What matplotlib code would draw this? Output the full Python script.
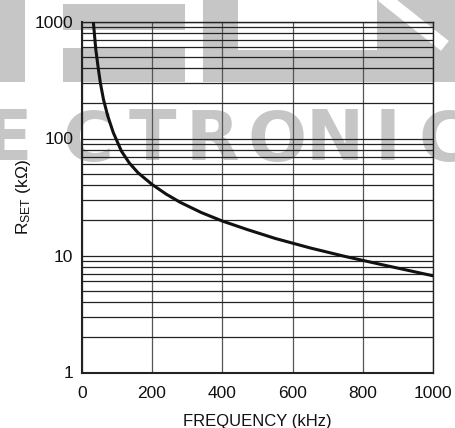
import matplotlib
matplotlib.use("Agg")
import matplotlib.pyplot as plt
from matplotlib.patches import Rectangle
from matplotlib.lines import Line2D
from matplotlib.ticker import FixedLocator, NullFormatter, NullLocator

# ---- data ----
freq_khz = [33, 40, 47, 53, 62, 74, 90, 113, 135, 160, 200, 240, 280, 340, 400,
            470, 550, 650, 750, 850, 1000]
rset_kohm = [1000, 580, 400, 300, 215, 156, 112, 78, 62, 51, 40.5, 33.5, 28.5, 23.3, 19.7,
             16.7, 14.0, 11.6, 9.8, 8.4, 6.7]
x_ticks = [0, 200, 400, 600, 800, 1000]
x_tick_labels = ["0", "200", "400", "600", "800", "1000"]
y_ticks = [1, 10, 100, 1000]
y_tick_labels = ["1", "10", "100", "1000"]
watermark_letters = ["E", "C", "T", "R", "O", "N", "I", "C"]

FONT = ["Liberation Sans", "DejaVu Sans"]
plt.rcParams["font.family"] = FONT
plt.rcParams["mathtext.fontset"] = "custom"
plt.rcParams["mathtext.rm"] = "Liberation Sans"
plt.rcParams["mathtext.it"] = "Liberation Sans"

W, H = 455, 428
fig = plt.figure(figsize=(W / 100, H / 100), dpi=100)
fig.patch.set_facecolor("white")

WM = "#c6c6c6"

def px_rect(x0, y0, x1, y1):
    # pixel coords (y from top) -> figure fraction rectangle
    return Rectangle((x0 / W, 1 - y1 / H), (x1 - x0) / W, (y1 - y0) / H,
                     transform=fig.transFigure, facecolor=WM, edgecolor="none", zorder=0)

# watermark blocks (top row)
for r in [(0, 0, 25, 82), (63, 4, 185, 30), (63, 48, 185, 82),
          (203, 0, 238, 82), (238, 50, 377, 82), (377, 0, 455, 82)]:
    fig.patches.append(px_rect(*r))
fig.lines.append(Line2D([387 / W, 440 / W], [1, 1 - 42 / H], transform=fig.transFigure,
                        color="white", lw=9, zorder=0.5))

# watermark letters
letter_x = [8, 88, 152, 212, 277, 335, 388, 444]
for ch, lx in zip(watermark_letters, letter_x):
    fig.text(lx / W, 1 - 141 / H, ch, color=WM, fontsize=50, fontweight="bold",
             family=["DejaVu Sans"], ha="center", va="center", zorder=0)

ax = fig.add_axes([81.7 / W, 55.5 / H, (433.3 - 81.7) / W, (372.5 - 21.5) / H])
ax.patch.set_alpha(0)
ax.set_zorder(2)

ax.plot(freq_khz, rset_kohm, color="#111111", lw=2.2, solid_capstyle="butt",
        solid_joinstyle="round", zorder=5)

ax.set_yscale("log")
ax.set_xlim(0, 1000)
ax.set_ylim(1, 1000)

ax.xaxis.set_major_locator(FixedLocator(x_ticks))
ax.set_xticklabels(x_tick_labels)
ax.yaxis.set_major_locator(FixedLocator(y_ticks))
ax.set_yticklabels(y_tick_labels)
minor = [m * 10 ** d for d in range(0, 3) for m in range(2, 10)]
ax.yaxis.set_minor_locator(FixedLocator(minor))
ax.yaxis.set_minor_formatter(NullFormatter())
ax.xaxis.set_minor_locator(NullLocator())

ax.grid(True, which="major", axis="x", color="#555555", lw=0.9)
ax.grid(True, which="both", axis="y", color="#222222", lw=0.9)

ax.tick_params(axis="both", which="both", length=0, labelsize=12.5, colors="#111111")
ax.tick_params(axis="x", pad=10)
ax.tick_params(axis="y", pad=6)

for s in ax.spines.values():
    s.set_color("#222222")
    s.set_linewidth(1.0)
ax.spines["left"].set_linewidth(1.5)
ax.spines["bottom"].set_linewidth(1.5)

ax.set_xlabel("FREQUENCY (kHz)", fontsize=12, labelpad=9, color="#111111")
ax.set_ylabel(r"R$_{\mathrm{SET}}$ (kΩ)", fontsize=12.5, labelpad=1, color="#111111")

fig.savefig("out.png", dpi=100)
